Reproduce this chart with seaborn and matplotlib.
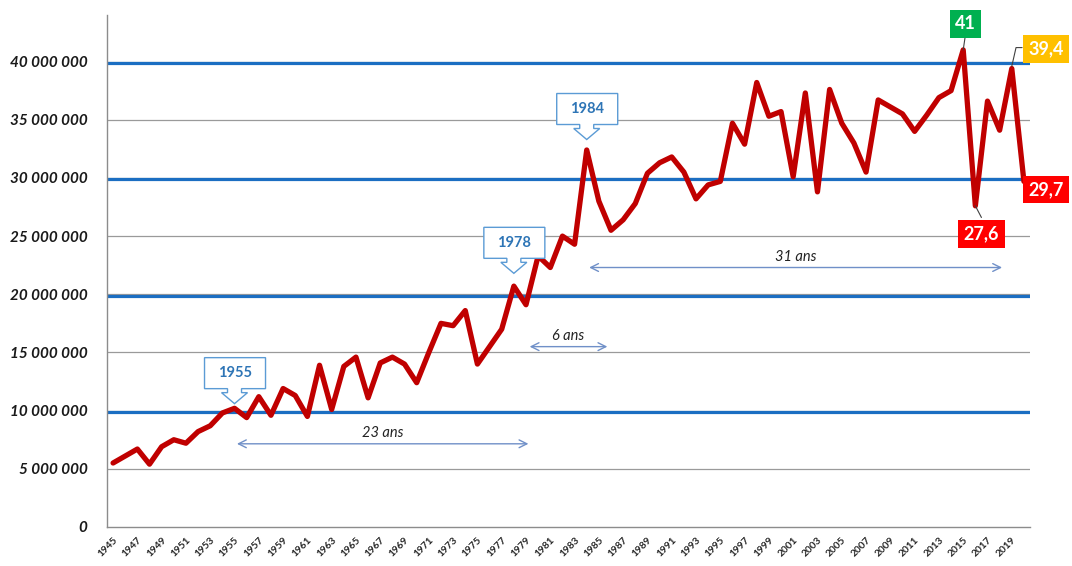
import matplotlib
matplotlib.use("Agg")
import matplotlib.pyplot as plt
import matplotlib.transforms as mtransforms
from matplotlib.patches import Polygon
import seaborn as sns
import pandas as pd

years = list(range(1945, 2021))
values_millions = [
    5.5, 6.1, 6.7, 5.4, 6.9, 7.5, 7.2, 8.2, 8.7, 9.8,
    10.2, 9.4, 11.2, 9.6, 11.9, 11.3, 9.5, 13.9, 10.1, 13.8,
    14.6, 11.1, 14.1, 14.6, 14.0, 12.4, 15.0, 17.5, 17.3, 18.6,
    14.0, 15.5, 17.0, 20.7, 19.1, 23.3, 22.3, 25.0, 24.3, 32.4,
    28.0, 25.5, 26.4, 27.8, 30.4, 31.3, 31.8, 30.5, 28.2, 29.4,
    29.7, 34.7, 32.9, 38.2, 35.3, 35.7, 30.1, 37.3, 28.8, 37.6,
    34.7, 33.0, 30.5, 36.7, 36.1, 35.5, 34.0, 35.4, 36.9, 37.5,
    41.0, 27.6, 36.6, 34.1, 39.4, 29.7,
]
y_ticks = [0, 5e6, 10e6, 15e6, 20e6, 25e6, 30e6, 35e6, 40e6]
blue_levels = [10e6, 20e6, 30e6, 40e6]
callout_years = [1955, 1978, 1984]
spans = [(1955, 1979, "23 ans"), (1979, 1986, "6 ans"), (1984, 2018, "31 ans")]
highlight_years = [2015, 2019, 2016, 2020]
highlight_colors = ["#00b050", "#ffc000", "#ff0000", "#ff0000"]

df = pd.DataFrame({"year": years, "value": [v * 1e6 for v in values_millions]})

sns.set_theme(style="white")
plt.rcParams["font.family"] = ["Lato", "DejaVu Sans"]

fig = plt.figure(figsize=(10.72, 5.66), dpi=100)
ax = fig.add_axes([107 / 1072, 1 - 527 / 566, (1030 - 107) / 1072, (527 - 15) / 566])

ax.set_xlim(1944.5, 2020.5)
ax.set_ylim(0, 44e6)

# gridlines
for v in y_ticks[1:]:
    ax.axhline(v, color="#9a9a9a", lw=0.9, zorder=1)
for v in blue_levels:
    ax.axhline(v - 0.12e6, color="#1b6ec2", lw=2.3, zorder=2)

sns.lineplot(data=df, x="year", y="value", ax=ax, color="#c00000", lw=3.8,
             zorder=5, legend=False)
ax.set_xlabel("")
ax.set_ylabel("")

# axes styling
for s in ["top", "right"]:
    ax.spines[s].set_visible(False)
for s in ["left", "bottom"]:
    ax.spines[s].set_color("#8c8c8c")
    ax.spines[s].set_linewidth(1.0)

ax.set_yticks(y_ticks)
ax.set_yticklabels([f"{int(v):,}".replace(",", " ") for v in y_ticks],
                   fontsize=11, fontweight="bold", fontstyle="italic", color="#1a1a1a")
ax.set_xticks(years)
ax.set_xticklabels([str(y) if (y - 1945) % 2 == 0 else "" for y in years],
                   rotation=45, ha="right", rotation_mode="anchor",
                   fontsize=7.3, fontweight="bold", color="#262626")
ax.tick_params(axis="y", direction="out", length=5, color="#8c8c8c", width=1, pad=9)
ax.tick_params(axis="x", direction="out", length=4, color="#8c8c8c", width=1, pad=2)

val = dict(zip(years, values_millions))

# callouts (down-arrow boxes), shape in pixels relative to the tip
def callout(year, tip_val, label):
    trans = fig.dpi_scale_trans + mtransforms.ScaledTranslation(year, tip_val, ax.transData)
    px = [(-30, 46), (31, 46), (31, 15), (7, 15), (7, 11), (13, 11), (0, 0),
          (-13, 11), (-7, 11), (-7, 15), (-30, 15)]
    pts = [(a / 100, b / 100) for a, b in px]
    poly = Polygon(pts, closed=True, transform=trans, fc="white", ec="#5b9bd5",
                   lw=1.0, zorder=8, clip_on=False)
    ax.add_patch(poly)
    ax.text(0.005, 0.305, label, transform=trans, ha="center", va="center",
            fontsize=10.5, fontweight="bold", color="#2e75b6", zorder=9)

callout(1955, val[1955] * 1e6 + 0.4e6, "1955")
callout(1978, 21.8e6, "1978")
callout(1984, 33.3e6, "1984")

# span arrows
span_y = {"23 ans": 7.15e6, "6 ans": 15.5e6, "31 ans": 22.3e6}
for a, b, lab in spans:
    yv = span_y[lab]
    x0 = a + 0.2 if lab != "6 ans" else a + 0.3
    x1 = b + 0.2 if lab != "6 ans" else b - 0.3
    ax.annotate("", xy=(x1, yv), xytext=(x0, yv),
                arrowprops=dict(arrowstyle="<->", color="#7090c8", lw=1.0,
                                shrinkA=0, shrinkB=0, mutation_scale=14), zorder=4)
    ax.text((x0 + x1) / 2, yv + 0.3e6, lab, ha="center", va="bottom",
            fontsize=10.5, fontstyle="italic", color="#222222", zorder=4)

# highlight value labels
label_pos = {2015: (2015.2, 43.25e6), 2019: (2021.8, 41.1e6),
             2016: (2016.5, 25.2e6), 2020: (2021.8, 29.0e6)}
for yr, col in zip(highlight_years, highlight_colors):
    v = val[yr]
    txt = (f"{v:.1f}".replace(".", ",")).replace(",0", "")
    lx, ly = label_pos[yr]
    if yr == 2015:
        ax.plot([yr + 0.15, yr], [ly - 1.2e6, v * 1e6], color="#404040", lw=0.8, zorder=6)
    elif yr == 2019:
        ax.plot([yr, yr + 0.35, yr + 0.85], [v * 1e6 + 0.2e6, 41.2e6, 41.2e6],
                color="#404040", lw=0.8, zorder=6, clip_on=False)
    elif yr == 2016:
        ax.plot([yr, yr + 0.5], [v * 1e6, v * 1e6 - 1.0e6], color="#404040", lw=0.8, zorder=6)
    ax.text(lx, ly, txt, ha="center", va="center", fontsize=13, fontweight="bold",
            color="white", zorder=10, clip_on=False,
            bbox=dict(boxstyle="square,pad=0.3", fc=col, ec="none"))

fig.savefig("out.png", dpi=100, facecolor="white")
